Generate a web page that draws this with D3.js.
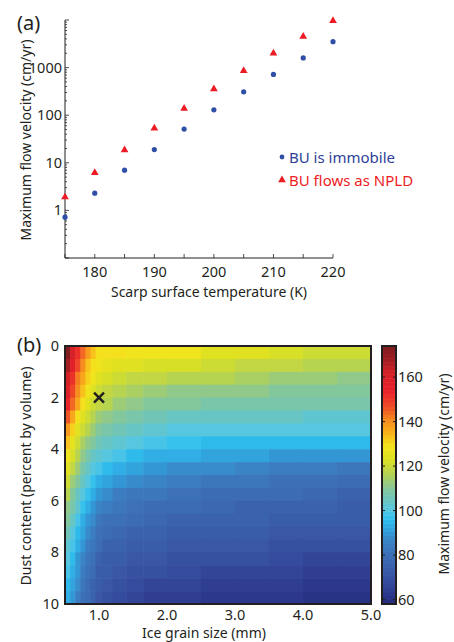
<!DOCTYPE html>
<html>
<head>
<meta charset="utf-8">
<script src="https://cdn.jsdelivr.net/npm/d3@7"></script>
<style>
body { margin: 0; background: #fff; }
text { font-family: "Noto Sans", sans-serif; fill: #231f20; }
</style>
</head>
<body>
<svg id="fig" width="454" height="642"></svg>
<script>
// ---- panel (a) data ----
var temps = [175, 180, 185, 190, 195, 200, 205, 210, 215, 220];
var velImmobile = [0.72, 2.3, 7.0, 19, 51, 130, 310, 720, 1600, 3500];
var velNPLD = [1.9, 6.2, 18.5, 53, 139, 355, 860, 2000, 4500, 9600];
var xTicksA = [180, 190, 200, 210, 220];
var yTicksA = [1, 10, 100, 1000];

// ---- panel (b) data ----
var grainEdges = [0.5, 0.575, 0.65, 0.725, 0.8, 0.875, 0.95, 1.05, 1.2, 1.4, 1.65, 2.0, 2.5, 3.0, 3.5, 4.0, 4.5, 5.0];
var dustEdges = [0, 0.5, 1, 1.5, 2, 2.5, 3, 3.5, 4, 4.5, 5, 5.5, 6, 6.5, 7, 7.5, 8, 8.5, 9, 9.5, 10];
var velGrid = [
  [173,161,152,144,138,133,130,129,129,128,127,127,125,124,122,121,120],
  [167,156,147,140,134,130,127,126,125,124,123,122,120,119,118,117,116],
  [163,152,143,136,131,127,124,122,121,119,118,117,116,115,114,113,112],
  [159,148,140,133,128,124,121,119,117,115,113,112,111,111,110,110,109],
  [154,144,136,130,124,121,118,116,114,112,110,109,108,108,108,107,107],
  [146,137,130,124,120,117,114,112,110,108,106,105,104,104,104,103,103],
  [139,132,125,120,116,113,110,108,106,104,102,101,101,100,100,100,100],
  [133,126,120,115,112,109,106,104,102,100,98,97,96,96,96,95,95],
  [128,122,117,112,108,105,102,100,98,96,94,93,92,91,90,90,89],
  [124,118,113,108,104,101,98,96,93,91,90,88,87,86,85,84,83],
  [120,114,109,104,101,97,94,92,89,87,86,84,83,82,81,80,79],
  [116,110,105,100,97,93,90,88,85,83,82,80,79,78,78,77,76],
  [112,107,102,97,93,90,86,84,82,81,79,78,77,76,76,75,74],
  [109,104,99,94,90,87,83,81,80,78,77,76,75,75,74,73,73],
  [106,101,96,91,87,84,80,78,77,76,75,74,73,73,72,71,71],
  [103,98,93,89,85,82,78,76,75,74,73,72,71,71,70,69,69],
  [100,95,90,86,83,80,76,74,73,72,71,70,69,69,68,67,67],
  [98,93,89,85,81,78,74,73,71,70,69,68,67,67,66,65,65],
  [96,91,87,83,79,76,73,71,70,68,67,66,65,65,64,63,63],
  [94,90,85,81,78,75,72,70,68,66,65,64,63,63,62,61,61]
];
var markGrain = 1.0, markDust = 2.0;
var xTicksB = [1, 2, 3, 4, 5];
var yTicksB = [0, 2, 4, 6, 8, 10];
var cbTicks = [60, 80, 100, 120, 140, 160];
var cbRange = [58, 174];
var cmapVals = [58, 62, 68, 74, 81, 87, 91, 96, 100, 105, 109, 113, 117, 123, 129, 135, 141, 147, 154, 162, 168, 174];
var cmapCols = ["#252c7a", "#2b368a", "#354b9d", "#3b5fab", "#3d72b8", "#3a86c7", "#319fdb", "#2ec0f0", "#54c6e4",
  "#6bc5bd", "#7fc6a3", "#9acb7b", "#b8d450", "#dbe022", "#f4e51c", "#f9b21b", "#f68b1f", "#ef4a26", "#e8202a",
  "#d42027", "#a01d22", "#7b1c1f"];
var nLevels = 64;

var svg = d3.select("#fig");
var ink = "#231f20";
var fs = "14px";

/////////////////////////////
// panel (a)
var xA = d3.scaleLinear().domain([175, 220]).range([65, 333]);
var yA = d3.scaleLog().domain([0.1, 10000]).range([258, 20]);

var gA = svg.append("g");

// y axis, log minor ticks pointing inward
gA.append("line").attr("x1", 65).attr("x2", 65).attr("y1", 20).attr("y2", 258)
  .attr("stroke", ink).attr("stroke-width", 1);
var minor = [];
for (var e = -1; e < 4; e++) {
  for (var m = 1; m < 10; m++) minor.push(m * Math.pow(10, e));
}
minor.push(10000);
gA.selectAll(".ytk").data(minor).enter().append("line")
  .attr("x1", 65)
  .attr("x2", function(d) { return Math.abs(Math.log10(d) - Math.round(Math.log10(d))) < 1e-6 ? 69 : 67; })
  .attr("y1", function(d) { return yA(d); })
  .attr("y2", function(d) { return yA(d); })
  .attr("stroke", ink).attr("stroke-width", 0.8);
gA.selectAll(".ylab").data(yTicksA).enter().append("text")
  .attr("x", 62).attr("y", function(d) { return yA(d); })
  .attr("dy", "0.35em").attr("text-anchor", "end")
  .style("font-size", "14.5px")
  .text(function(d) { return d; });

// x axis
gA.append("line").attr("x1", 65).attr("x2", 333).attr("y1", 258).attr("y2", 258)
  .attr("stroke", ink).attr("stroke-width", 1);
var xMinorA = d3.range(175, 221, 5);
gA.selectAll(".xtk").data(xMinorA).enter().append("line")
  .attr("x1", function(d) { return xA(d); })
  .attr("x2", function(d) { return xA(d); })
  .attr("y1", 258).attr("y2", 254)
  .attr("stroke", ink).attr("stroke-width", 0.8);
gA.selectAll(".xlab").data(xTicksA).enter().append("text")
  .attr("x", function(d) { return xA(d); }).attr("y", 277)
  .attr("text-anchor", "middle").style("font-size", "14.5px")
  .text(function(d) { return d; });

gA.append("text").attr("x", 209).attr("y", 297).attr("text-anchor", "middle")
  .style("font-size", fs).text("Scarp surface temperature (K)");
gA.append("text").attr("transform", "translate(31,140) rotate(-90)").attr("text-anchor", "middle")
  .style("font-size", fs).text("Maximum flow velocity (cm/yr)");
gA.append("text").attr("x", 17).attr("y", 30).style("font-size", "20px").text("(a)");

// markers
var blue = "#2e4fa5", red = "#ed1c24";
gA.selectAll(".dot").data(temps).enter().append("circle")
  .attr("cx", function(d) { return xA(d); })
  .attr("cy", function(d, i) { return yA(velImmobile[i]); })
  .attr("r", 2.6).attr("fill", blue);
var tri = d3.symbol().type(d3.symbolTriangle).size(26);
gA.selectAll(".tri").data(temps).enter().append("path")
  .attr("d", tri)
  .attr("transform", function(d, i) { return "translate(" + xA(d) + "," + yA(velNPLD[i]) + ")"; })
  .attr("fill", red);

// legend
gA.append("circle").attr("cx", 282).attr("cy", 157).attr("r", 2.4).attr("fill", blue);
gA.append("text").attr("x", 289).attr("y", 163).style("font-size", "15px")
  .style("fill", "#2e3f98").text("BU is immobile");
gA.append("path").attr("d", tri).attr("transform", "translate(282,180)").attr("fill", red);
gA.append("text").attr("x", 289).attr("y", 186).style("font-size", "15px")
  .style("fill", red).text("BU flows as NPLD");

/////////////////////////////
// panel (b)
var xB = d3.scaleLinear().domain([0.5, 5.0]).range([65, 371]);
var yB = d3.scaleLinear().domain([0, 10]).range([346, 604]);

var cmap = d3.scaleLinear().domain(cmapVals).range(cmapCols).interpolate(d3.interpolateRgb);
var step = (cbRange[1] - cbRange[0]) / nLevels;
function levelColor(v) {
  var k = Math.floor((v - cbRange[0]) / step);
  k = Math.max(0, Math.min(nLevels - 1, k));
  return cmap(cbRange[0] + (k + 0.5) * step);
}

var cells = [];
velGrid.forEach(function(row, j) {
  row.forEach(function(v, i) {
    cells.push({ g0: grainEdges[i], g1: grainEdges[i + 1], d0: dustEdges[j], d1: dustEdges[j + 1], v: v });
  });
});
var gB = svg.append("g");
gB.selectAll(".cell").data(cells).enter().append("rect")
  .attr("x", function(d) { return xB(d.g0); })
  .attr("y", function(d) { return yB(d.d0); })
  .attr("width", function(d) { return xB(d.g1) - xB(d.g0) + 0.6; })
  .attr("height", function(d) { return yB(d.d1) - yB(d.d0) + 0.6; })
  .attr("fill", function(d) { return levelColor(d.v); });

gB.append("rect").attr("x", 65).attr("y", 346).attr("width", 306).attr("height", 258)
  .attr("fill", "none").attr("stroke", ink).attr("stroke-width", 2);

// X marker
var mx = xB(markGrain), my = yB(markDust), s = 5;
gB.append("path")
  .attr("d", "M" + (mx - s) + "," + (my - s) + "L" + (mx + s) + "," + (my + s) +
    "M" + (mx - s) + "," + (my + s) + "L" + (mx + s) + "," + (my - s))
  .attr("stroke", ink).attr("stroke-width", 2.4).attr("fill", "none");

gB.selectAll(".xlb").data(xTicksB).enter().append("text")
  .attr("x", function(d) { return xB(d); }).attr("y", 620)
  .attr("text-anchor", "middle").style("font-size", "14.5px")
  .text(function(d) { return d.toFixed(1); });
gB.selectAll(".ylb").data(yTicksB).enter().append("text")
  .attr("x", 59).attr("y", function(d) { return yB(d); })
  .attr("dy", "0.35em").attr("text-anchor", "end").style("font-size", "14.5px")
  .text(function(d) { return d; });

gB.append("text").attr("x", 204).attr("y", 638).attr("text-anchor", "middle")
  .style("font-size", fs).text("Ice grain size (mm)");
gB.append("text").attr("transform", "translate(31,476) rotate(-90)").attr("text-anchor", "middle")
  .style("font-size", fs).text("Dust content (percent by volume)");
gB.append("text").attr("x", 17).attr("y", 352).style("font-size", "20px").text("(b)");

// colorbar
var yC = d3.scaleLinear().domain(cbRange).range([604, 346]);
var levels = d3.range(nLevels);
gB.selectAll(".cb").data(levels).enter().append("rect")
  .attr("x", 382).attr("width", 14)
  .attr("y", function(k) { return yC(cbRange[0] + (k + 1) * step); })
  .attr("height", function(k) { return yC(cbRange[0] + k * step) - yC(cbRange[0] + (k + 1) * step) + 0.5; })
  .attr("fill", function(k) { return cmap(cbRange[0] + (k + 0.5) * step); });
gB.append("rect").attr("x", 382).attr("y", 346).attr("width", 14).attr("height", 258)
  .attr("fill", "none").attr("stroke", ink).attr("stroke-width", 2);
gB.selectAll(".cbt").data(cbTicks).enter().append("path")
  .attr("d", function(d) {
    var y = yC(d);
    return "M382," + y + "h3M396," + y + "h-3";
  })
  .attr("stroke", ink).attr("stroke-width", 1);
gB.selectAll(".cbl").data(cbTicks).enter().append("text")
  .attr("x", 398).attr("y", function(d) { return yC(d); })
  .attr("dy", "0.35em").style("font-size", "14.5px")
  .text(function(d) { return d; });
gB.append("text").attr("transform", "translate(449,474) rotate(-90)").attr("text-anchor", "middle")
  .style("font-size", fs).text("Maximum flow velocity (cm/yr)");
</script>
</body>
</html>
